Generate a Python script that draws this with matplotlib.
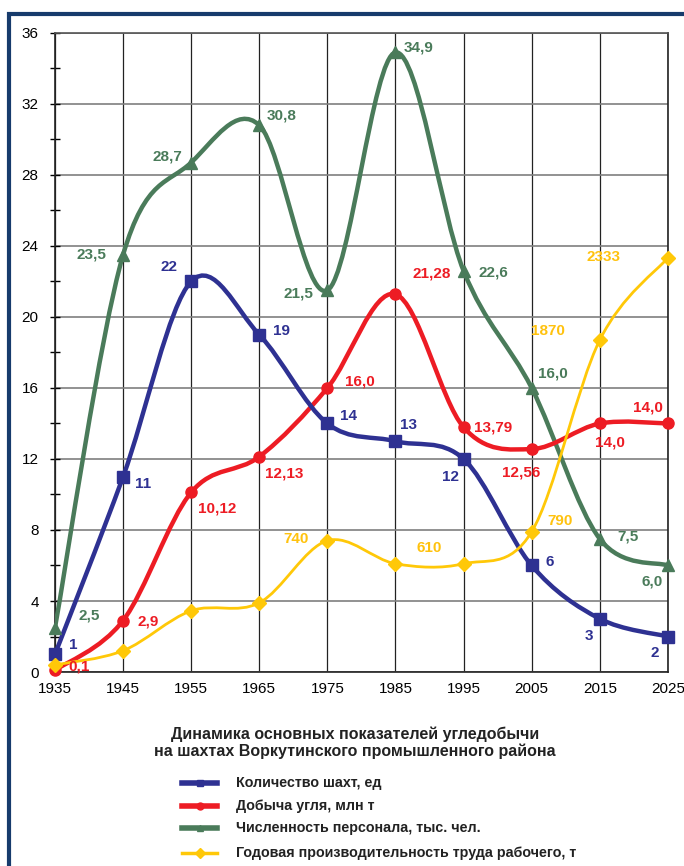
import matplotlib.pyplot as plt
from matplotlib.path import Path
from matplotlib.patches import PathPatch, Rectangle
from matplotlib.lines import Line2D
from matplotlib.ticker import MultipleLocator

plt.rcParams['font.family'] = ['Liberation Sans', 'DejaVu Sans']

years = [1935, 1945, 1955, 1965, 1975, 1985, 1995, 2005, 2015, 2025]
mines = [1, 11, 22, 19, 14, 13, 12, 6, 3, 2]
coal = [0.1, 2.9, 10.12, 12.13, 16.0, 21.28, 13.79, 12.56, 14.0, 14.0]
staff = [2.5, 23.5, 28.7, 30.8, 21.5, 34.9, 22.6, 16.0, 7.5, 6.0]
# productivity, t per worker (plotted /100)
productivity = [40, 120, 345, 390, 740, 610, 610, 790, 1870, 2333]

mines_lbl = ['1', '11', '22', '19', '14', '13', '12', '6', '3', '2']
coal_lbl = ['0,1', '2,9', '10,12', '12,13', '16,0', '21,28', '13,79', '12,56', '14,0', '14,0']
staff_lbl = ['2,5', '23,5', '28,7', '30,8', '21,5', '34,9', '22,6', '16,0', '7,5', '6,0']
prod_lbl = [None, None, None, None, '740', '610', None, '790', '1870', '2333']

BLUE = '#2E3192'
RED = '#ED1C24'
GREEN = '#4A7B5A'
YELLOW = '#FFC808'
YTEXT = '#FFC20E'


def smooth_path(xs, ys):
    # Excel-like smoothed line: cubic Bezier between data points
    pts = list(zip(xs, ys))
    verts = [pts[0]]
    codes = [Path.MOVETO]
    n = len(pts)
    for i in range(n - 1):
        p0 = pts[i - 1] if i > 0 else pts[i]
        p1 = pts[i]
        p2 = pts[i + 1]
        p3 = pts[i + 2] if i + 2 < n else pts[i + 1]
        c1 = (p1[0] + (p2[0] - p0[0]) / 6, p1[1] + (p2[1] - p0[1]) / 6)
        c2 = (p2[0] - (p3[0] - p1[0]) / 6, p2[1] - (p3[1] - p1[1]) / 6)
        verts += [c1, c2, p2]
        codes += [Path.CURVE4] * 3
    return Path(verts, codes)


fig = plt.figure(figsize=(6.84, 8.66), dpi=100)
ax = fig.add_axes([0.0804, 0.224, 0.896, 0.738])

ax.set_xlim(1935, 2025)
ax.set_ylim(0, 36)
ax.set_xticks(years)
ax.yaxis.set_major_locator(MultipleLocator(4))
ax.yaxis.set_minor_locator(MultipleLocator(2))
ax.grid(True, which='major', axis='y', color='#7f7f7f', lw=1.2)
ax.grid(True, which='major', axis='x', color='#222222', lw=0.9)
ax.set_axisbelow(True)
ax.tick_params(axis='y', which='both', direction='inout', length=7.5, width=1, labelsize=11, pad=8)
ax.tick_params(axis='x', length=0, labelsize=11, pad=7)
for s in ax.spines.values():
    s.set_color('#222222')
    s.set_linewidth(1.2)
ax.spines['top'].set_color('#555555')

prod_scaled = [v / 100 for v in productivity]

series = [
    (staff, GREEN, '^', 9, 3.2),
    (coal, RED, 'o', 8, 3.2),
    (mines, BLUE, 's', 8, 3.2),
    (prod_scaled, YELLOW, 'D', 7, 2.0),
]
for vals, col, mk, ms, lw in series:
    ax.add_patch(PathPatch(smooth_path(years, vals), fill=False, edgecolor=col, lw=lw,
                           capstyle='round', joinstyle='round', zorder=3))
    ax.plot(years, vals, ls='none', marker=mk, ms=ms, color=col, zorder=4, clip_on=False)

# label centre offsets from the marker, in pixels (x right, y up)
mines_off = [(18, 9), (20, -7), (-22, 14), (22, 4), (21, 7), (13, 16), (-13, -18), (18, 3), (-11, -17), (-13, -16)]
coal_off = [(24, 4), (25, -1), (26, -16), (25, -17), (32, 6), (36, 21), (30, 0), (-11, -23), (10, -19), (-20, 16)]
staff_off = [(34, 12), (-32, 0), (-24, 6), (22, 10), (-29, -3), (23, 5), (30, -2), (21, 14), (28, 2), (-16, -16)]
prod_off = [None, None, None, None, (-31, 2), (34, 16), None, (28, 11), (-52, 9), (-64, 1)]

lab_kw = dict(fontsize=11, fontweight='bold', textcoords='offset pixels', ha='center', va='center')
for i, y in enumerate(years):
    ax.annotate(mines_lbl[i], (y, mines[i]), xytext=mines_off[i], color=BLUE, **lab_kw)
    ax.annotate(coal_lbl[i], (y, coal[i]), xytext=coal_off[i], color=RED, **lab_kw)
    ax.annotate(staff_lbl[i], (y, staff[i]), xytext=staff_off[i], color=GREEN, **lab_kw)
    if prod_lbl[i]:
        ax.annotate(prod_lbl[i], (y, prod_scaled[i]), xytext=prod_off[i], color=YTEXT, **lab_kw)

fig.text(0.519, 0.142, 'Динамика основных показателей угледобычи\nна шахтах Воркутинского промышленного района',
         ha='center', va='center', fontsize=11.5, fontweight='bold', color='#222222', linespacing=1.15)

legend_items = [
    ('Количество шахт, ед', BLUE, 's', 4),
    ('Добыча угля, млн т', RED, 'o', 4),
    ('Численность персонала, тыс. чел.', GREEN, '^', 4),
    ('Годовая производительность труда рабочего, т', YELLOW, 'D', 2.5),
]
ly = [1 - 783 / 866, 1 - 806 / 866, 1 - 828 / 866, 1 - 853 / 866]
for (txt, col, mk, lw), yy in zip(legend_items, ly):
    fig.add_artist(Line2D([182 / 684, 217 / 684], [yy, yy], color=col, lw=lw,
                          transform=fig.transFigure))
    fig.add_artist(Line2D([199.5 / 684], [yy], color=col, marker=mk, ms=5,
                          transform=fig.transFigure))
    fig.text(236 / 684, yy, txt, ha='left', va='center', fontsize=10.3, fontweight='bold', color='#222222')

# outer frame
fig.add_artist(Rectangle((0.0135, -0.05), 1.05, 0.034 + 1.0, fill=False,
                         edgecolor='#173B6C', lw=3, transform=fig.transFigure))

fig.savefig('out.png', dpi=100)
